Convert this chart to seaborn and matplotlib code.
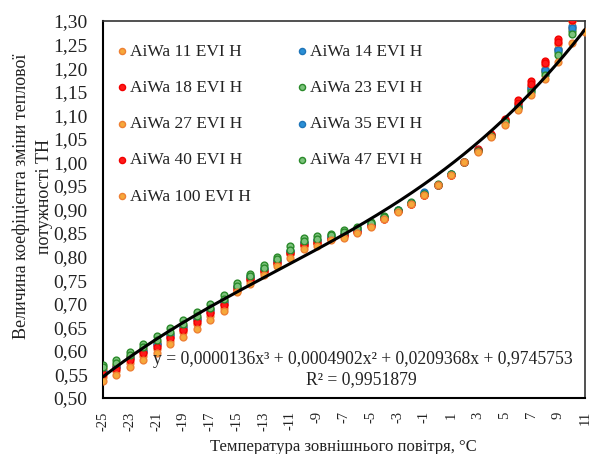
import numpy as np
import pandas as pd
import matplotlib
matplotlib.use("Agg")
import matplotlib.pyplot as plt
import seaborn as sns

sns.set_theme(style="white")
plt.rcParams["font.family"] = ["Liberation Serif", "DejaVu Serif"]

# Outdoor temperature, °C
temps = list(range(-25, 12))
nan = np.nan

aiwa_11 = [0.545, 0.558, 0.575, 0.590, 0.604, 0.622, 0.640, 0.657, 0.675, 0.692,
           0.730, 0.750, 0.768, 0.786, 0.806, 0.824, 0.829, 0.838, 0.844, 0.853,
           0.867, 0.881, 0.896, 0.911, 0.930, 0.952, 0.974, 1.000, 1.025, 1.056,
           1.087, 1.118, 1.155, 1.195, 1.240, 1.285, nan]
aiwa_14 = [0.558, 0.568, 0.587, 0.602, 0.617, 0.635, 0.652, 0.670, 0.688, 0.705,
           0.738, 0.758, 0.775, 0.793, 0.813, 0.831, 0.836, 0.843, 0.849, 0.858,
           0.870, 0.884, 0.899, 0.914, 0.937, 0.953, 0.975, 1.000, 1.027, 1.058,
           1.089, 1.122, 1.160, 1.198, 1.240, 1.290, nan]
aiwa_18 = [0.555, 0.565, 0.584, 0.598, 0.612, 0.630, 0.647, 0.665, 0.683, 0.700,
           0.735, 0.755, 0.772, 0.790, 0.810, 0.828, 0.833, 0.840, 0.846, 0.855,
           0.868, 0.882, 0.897, 0.912, 0.930, 0.952, 0.974, 1.000, 1.028, 1.060,
           1.093, 1.132, 1.173, 1.216, 1.261, 1.310, nan]
aiwa_23 = [0.571, 0.580, 0.598, 0.615, 0.632, 0.649, 0.665, 0.683, 0.700, 0.718,
           0.744, 0.764, 0.782, 0.800, 0.822, 0.840, 0.843, 0.849, 0.856, 0.863,
           0.874, 0.887, 0.900, 0.916, 0.933, 0.954, 0.975, 1.000, 1.026, 1.057,
           1.088, 1.118, 1.153, 1.192, 1.235, 1.279, nan]
aiwa_27 = [0.562, 0.570, 0.588, 0.603, 0.618, 0.636, 0.652, 0.670, 0.688, 0.705,
           0.728, 0.748, 0.766, 0.785, 0.805, 0.823, 0.828, 0.837, 0.843, 0.852,
           0.866, 0.880, 0.896, 0.911, 0.930, 0.952, 0.974, 1.000, 1.026, 1.058,
           1.090, 1.125, 1.162, 1.207, 1.251, 1.299, nan]
aiwa_35 = [0.556, 0.566, 0.585, 0.600, 0.615, 0.633, 0.650, 0.668, 0.686, 0.703,
           0.736, 0.756, 0.773, 0.791, 0.811, 0.829, 0.835, 0.842, 0.848, 0.857,
           0.869, 0.883, 0.898, 0.913, 0.935, 0.953, 0.975, 1.000, 1.026, 1.057,
           1.088, 1.120, 1.157, 1.196, 1.238, 1.285, nan]
aiwa_40 = [0.552, 0.562, 0.580, 0.595, 0.609, 0.627, 0.644, 0.662, 0.680, 0.697,
           0.732, 0.752, 0.769, 0.787, 0.807, 0.825, 0.830, 0.838, 0.845, 0.853,
           0.866, 0.880, 0.896, 0.911, 0.930, 0.952, 0.974, 1.000, 1.027, 1.058,
           1.090, 1.127, 1.167, 1.210, 1.255, 1.303, nan]
aiwa_47 = [0.566, 0.575, 0.592, 0.608, 0.624, 0.640, 0.657, 0.675, 0.692, 0.710,
           0.738, 0.758, 0.776, 0.794, 0.815, 0.834, 0.838, 0.845, 0.852, 0.860,
           0.871, 0.885, 0.898, 0.914, 0.932, 0.953, 0.975, 1.000, 1.025, 1.055,
           1.086, 1.116, 1.150, 1.186, 1.228, 1.272, nan]
aiwa_100 = [0.536, 0.548, 0.566, 0.581, 0.596, 0.614, 0.630, 0.647, 0.665, 0.684,
            0.725, 0.743, 0.760, 0.780, 0.798, 0.817, 0.823, 0.835, 0.840, 0.850,
            0.863, 0.879, 0.895, 0.911, 0.930, 0.952, 0.974, 1.000, 1.022, 1.053,
            1.079, 1.111, 1.143, 1.176, 1.214, 1.254, 1.277]

series_names = ["AiWa 11 EVI H", "AiWa 14 EVI H", "AiWa 18 EVI H",
                "AiWa 23 EVI H", "AiWa 27 EVI H", "AiWa 35 EVI H",
                "AiWa 40 EVI H", "AiWa 47 EVI H", "AiWa 100 EVI H"]
series_values = [aiwa_11, aiwa_14, aiwa_18, aiwa_23, aiwa_27,
                 aiwa_35, aiwa_40, aiwa_47, aiwa_100]

orange = ("#F6A83A", "#EE8034")
blue = ("#2A8FD6", "#1F75B8")
red = ("#FF1A1A", "#F20000")
green = ("#7CC37C", "#2A8A2A")
series_styles = [orange, blue, red, green, orange, blue, red, green, orange]

# Cubic trend: y = a x^3 + b x^2 + c x + d
trend_coefs = [0.0000136, 0.0004902, 0.0209368, 0.9745753]
r_squared = 0.9951879

x_ticks = list(range(-25, 12, 2))
y_ticks = [round(0.50 + 0.05 * i, 2) for i in range(17)]

fig = plt.figure(figsize=(5.93, 4.54), dpi=100)
ax = fig.add_axes([0.1737, 0.1233, 0.8128, 0.8304])

for name, vals, (fill, edge) in zip(series_names, series_values, series_styles):
    df = pd.DataFrame({"t": temps, "k": vals}).dropna()
    sns.scatterplot(data=df, x="t", y="k", ax=ax, s=24, color=fill,
                    edgecolor=edge, linewidth=1.0, label=name, zorder=3)

trend_x = np.linspace(-25, 11, 300)
trend_df = pd.DataFrame({"t": trend_x, "k": np.polyval(trend_coefs, trend_x)})
sns.lineplot(data=trend_df, x="t", y="k", ax=ax, color="black", linewidth=2.2,
             zorder=4, legend=False)

ax.set_xlim(-25, 11)
ax.set_ylim(0.50, 1.30)
ax.set_xticks(x_ticks)
ax.set_xticklabels([str(v) for v in x_ticks], rotation=90, fontsize=10.5)
ax.set_yticks(y_ticks)
ax.set_yticklabels([f"{v:.2f}".replace(".", ",") for v in y_ticks], fontsize=14)
ax.tick_params(axis="both", direction="inout", length=8, width=1.3,
               color="black", labelcolor="#222222")
ax.tick_params(axis="y", pad=7)
ax.tick_params(axis="x", pad=5.5)

for side in ["left", "bottom"]:
    ax.spines[side].set_color("black")
    ax.spines[side].set_linewidth(1.5)
for side in ["top", "right"]:
    ax.spines[side].set_color("#333333")
    ax.spines[side].set_linewidth(1.2)

ax.set_xlabel("Температура зовнішнього повітря, °C", fontsize=12, color="#222222")
ax.xaxis.set_label_coords(0.498, -0.109)
ax.set_ylabel("Величина коефіцієнта зміни теплової\nпотужності ТН", fontsize=13,
              color="#222222", linespacing=1.45)
ax.yaxis.set_label_coords(-0.104, 0.535)

eq = "y = 0,0000136x³ + 0,0004902x² + 0,0209368x + 0,9745753"
ax.text(-5.6, 0.582, eq, fontsize=12.7, color="#222222", ha="center", va="center")
ax.text(-5.7, 0.540, "R² = " + f"{r_squared:.7f}".replace(".", ","), fontsize=12.7,
        color="#222222", ha="center", va="center")

handles, labels = ax.get_legend_handles_labels()
order = [0, 2, 4, 6, 8, 1, 3, 5, 7]
leg = ax.legend([handles[i] for i in order], [labels[i] for i in order],
                ncol=2, loc="upper left", bbox_to_anchor=(0.01, 0.959),
                frameon=False, fontsize=12.5, handletextpad=0.1,
                markerscale=0.9, labelspacing=1.16, columnspacing=2.5,
                handlelength=0.8, borderaxespad=0.0)
for t in leg.get_texts():
    t.set_color("#222222")

fig.savefig("out.png", dpi=100)
